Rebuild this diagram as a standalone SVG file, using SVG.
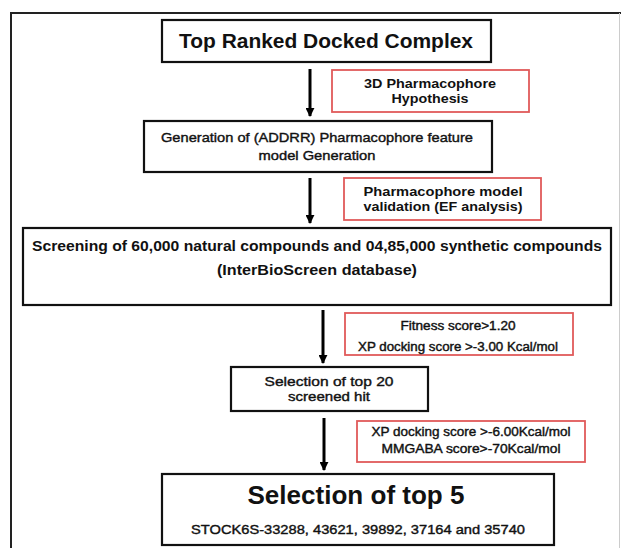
<svg xmlns="http://www.w3.org/2000/svg" width="621" height="548" viewBox="0 0 621 548">
<style>
  .box { fill: #ffffff; stroke: #111111; stroke-width: 2.2; }
  .rbox { fill: #ffffff; stroke: #e05a5a; stroke-width: 1.8; }
  text { font-family: "Liberation Sans", Arial, sans-serif; fill: #111111; text-anchor: middle; }
  .b { font-weight: bold; }
  .m { stroke: #111111; stroke-width: 0.4; }
  .arrow { stroke: #000000; stroke-width: 3; fill: none; marker-end: url(#ah); }
</style>
<defs>
  <marker id="ah" viewBox="0 0 10 10" refX="9" refY="5" markerWidth="3" markerHeight="3" orient="auto" markerUnits="strokeWidth">
    <path d="M0,0 L10,5 L0,10 Z" fill="#000000"/>
  </marker>
</defs>
<rect width="621" height="548" fill="#ffffff"/>
<g id="frame">
  <path d="M 621 13 H 11 V 548" fill="none" stroke="#222222" stroke-width="2"/>
  <path d="M 619.5 13 V 548" fill="none" stroke="#cccccc" stroke-width="1"/>
</g>
<g id="connectors">
  <line class="arrow" x1="310" y1="69" x2="310" y2="116"/>
  <line class="arrow" x1="310" y1="178" x2="310" y2="223"/>
  <line class="arrow" x1="323" y1="310" x2="323" y2="363"/>
  <line class="arrow" x1="324" y1="418" x2="324" y2="470"/>
</g>
<g id="top-ranked">
  <rect class="box" x="162" y="20" width="329" height="42"/>
  <text class="b" x="326" y="48" font-size="20" textLength="294" lengthAdjust="spacingAndGlyphs">Top Ranked Docked Complex</text>
</g>
<g id="pharm-hypothesis">
  <rect class="rbox" x="332" y="70" width="197" height="42"/>
  <text class="b" x="430" y="88" font-size="13" textLength="132" lengthAdjust="spacingAndGlyphs">3D Pharmacophore</text>
  <text class="b" x="430" y="103" font-size="13" textLength="77" lengthAdjust="spacingAndGlyphs">Hypothesis</text>
</g>
<g id="generation">
  <rect class="box" x="144" y="121" width="348" height="51"/>
  <text class="m" x="317" y="142" font-size="13.5" textLength="312" lengthAdjust="spacingAndGlyphs">Generation of (ADDRR) Pharmacophore feature</text>
  <text class="m" x="317" y="160" font-size="13.5" textLength="117" lengthAdjust="spacingAndGlyphs">model Generation</text>
</g>
<g id="validation">
  <rect class="rbox" x="344" y="178" width="197" height="42"/>
  <text class="b" x="443" y="196" font-size="13" textLength="159" lengthAdjust="spacingAndGlyphs">Pharmacophore model</text>
  <text class="b" x="443" y="211" font-size="13" textLength="159" lengthAdjust="spacingAndGlyphs">validation (EF analysis)</text>
</g>
<g id="screening">
  <rect class="box" x="23" y="228" width="588" height="77"/>
  <text class="b" x="317" y="251" font-size="15.5" textLength="570" lengthAdjust="spacingAndGlyphs">Screening of 60,000 natural compounds and 04,85,000 synthetic compounds</text>
  <text class="b" x="317" y="275" font-size="15.5" textLength="200" lengthAdjust="spacingAndGlyphs">(InterBioScreen  database)</text>
</g>
<g id="fitness">
  <rect class="rbox" x="345" y="313" width="228" height="42"/>
  <text class="m" x="458" y="330" font-size="12" textLength="115" lengthAdjust="spacingAndGlyphs">Fitness score&gt;1.20</text>
  <text class="m" x="458" y="351" font-size="12" textLength="200" lengthAdjust="spacingAndGlyphs">XP docking score &gt;-3.00 Kcal/mol</text>
</g>
<g id="top20">
  <rect class="box" x="231" y="367" width="197" height="44"/>
  <text class="m" x="329" y="386" font-size="13.5" textLength="129" lengthAdjust="spacingAndGlyphs">Selection of top 20</text>
  <text class="m" x="329" y="401" font-size="13.5" textLength="82" lengthAdjust="spacingAndGlyphs">screened hit</text>
</g>
<g id="mmgaba">
  <rect class="rbox" x="357" y="421" width="228" height="41"/>
  <text class="m" x="471" y="436" font-size="12.5" textLength="199" lengthAdjust="spacingAndGlyphs">XP docking score &gt;-6.00Kcal/mol</text>
  <text class="m" x="471" y="453" font-size="12.5" textLength="179" lengthAdjust="spacingAndGlyphs">MMGABA score&gt;-70Kcal/mol</text>
</g>
<g id="top5">
  <rect class="box" x="162" y="474" width="392" height="71"/>
  <text class="b" x="356" y="504" font-size="25" textLength="217" lengthAdjust="spacingAndGlyphs">Selection of top 5</text>
  <text class="m" x="358" y="534" font-size="13" textLength="334" lengthAdjust="spacingAndGlyphs">STOCK6S-33288, 43621, 39892, 37164  and 35740</text>
</g>
</svg>
